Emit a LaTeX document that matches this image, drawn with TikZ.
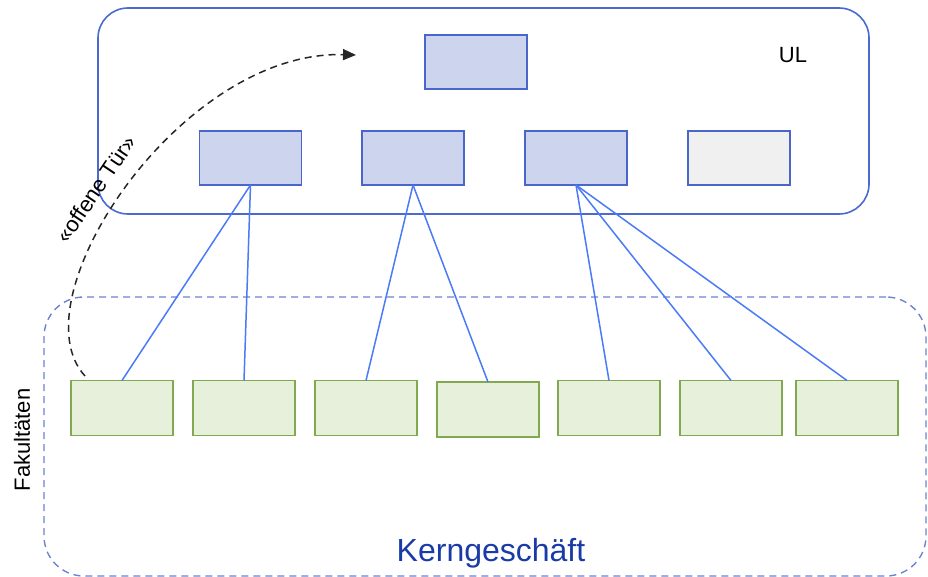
\documentclass[tikz,border=0pt]{standalone}
\usepackage{fontspec}
\setmainfont{Liberation Sans}
\usetikzlibrary{arrows.meta}

\definecolor{frameblue}{HTML}{4A6AD0}
\definecolor{boxline}{HTML}{4A66C8}
\definecolor{boxfill}{HTML}{CCD4EE}
\definecolor{greyfill}{HTML}{F0F0F0}
\definecolor{greenline}{HTML}{82A850}
\definecolor{greenfill}{HTML}{E6F0DA}
\definecolor{linkblue}{HTML}{4A7AF7}
\definecolor{coreblue}{HTML}{6B82D0}
\definecolor{titleblue}{HTML}{1A3AA6}

\tikzset{
  unit/.style={draw=boxline, fill=boxfill, line width=1.8pt, minimum width=102pt,
    minimum height=54pt, inner sep=0pt, outer sep=0pt},
  spare/.style={unit, fill=greyfill},
  faculty/.style={draw=greenline, fill=greenfill, line width=1.8pt, minimum width=102pt,
    minimum height=55pt, inner sep=0pt, outer sep=0pt},
  link/.style={draw=linkblue, line width=1.5pt},
  lbl/.style={font=\fontsize{22}{26}\selectfont, inner sep=0pt},
}

\begin{document}
\begin{tikzpicture}[x=1pt, y=-1pt]
  \useasboundingbox (0,0) rectangle (928,577);

  % management frame
  \node[draw=frameblue, line width=1.6pt, rounded corners=30pt, minimum width=771pt,
    minimum height=206pt, inner sep=0pt] (ul) at (483.5,111) {};
  \node[lbl] (ultext) at (793,55) {UL};

  % core business frame
  \node[draw=coreblue, line width=1.4pt, dash pattern=on 7pt off 5pt, rounded corners=40pt,
    minimum width=882pt, minimum height=279pt, inner sep=0pt] (core) at (485,436.5) {};
  \node[font=\fontsize{32}{36}\selectfont, text=titleblue, inner sep=0pt] (coretext) at (491,553) {Kerngeschäft};
  \node[lbl, rotate=90] (fak) at (22,440) {Fakultäten};

  % management units
  \node[unit] (top) at (476,62) {};
  \node[unit] (u1) at (250.5,158) {};
  \node[unit] (u2) at (413,158) {};
  \node[unit] (u3) at (576,158) {};
  \node[spare] (u4) at (739,158) {};

  % faculties
  \node[faculty] (f1) at (122,408) {};
  \node[faculty] (f2) at (244,408) {};
  \node[faculty] (f3) at (366,408) {};
  \node[faculty] (f4) at (488,409.5) {};
  \node[faculty] (f5) at (609,408) {};
  \node[faculty] (f6) at (731,408) {};
  \node[faculty] (f7) at (847,408) {};

  % reporting lines
  \draw[link] (u1.south) -- (f1.north);
  \draw[link] (u1.south) -- (f2.north);
  \draw[link] (u2.south) -- (f3.north);
  \draw[link] (u2.south) -- (f4.north);
  \draw[link] (u3.south) -- (f5.north);
  \draw[link] (u3.south) -- (f6.north);
  \draw[link] (u3.south) -- (f7.north);

  % open door
  \coordinate (doorstart) at (85,376);
  \coordinate (doorend) at (356,55);
  \draw[black!85, line width=1.5pt, dash pattern=on 7pt off 5pt,
    -{Triangle[length=13pt,width=11pt]}]
    (doorstart) .. controls (15,300) and (180,50) .. (doorend);
  \node[lbl, rotate=56] (door) at (96,189) {«offene Tür»};
\end{tikzpicture}
\end{document}
